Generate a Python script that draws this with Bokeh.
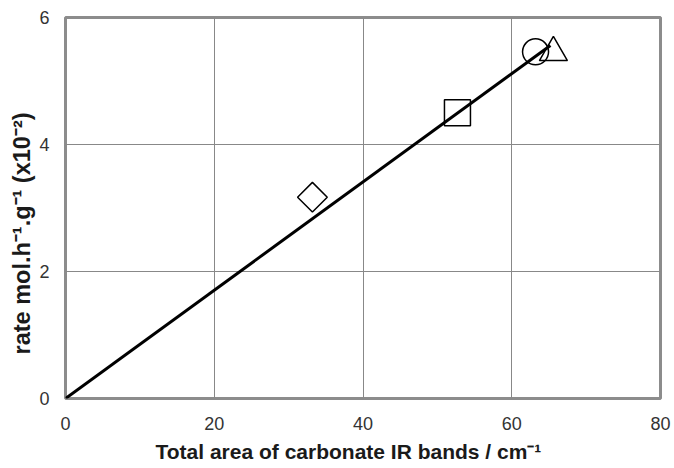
import math
from bokeh.plotting import figure
from bokeh.models import Range1d, FixedTicker, Title
from bokeh.embed import file_html
from bokeh.resources import INLINE

# data points
diamond_x = [33.2]; diamond_y = [3.17]
square_x = [52.7]; square_y = [4.50]
circle_x = [63.2]; circle_y = [5.46]
triangle_x = [65.6]; triangle_y = [5.45]
fit_x = [0, 65.2]; fit_y = [0, 5.56]
x_ticks = [0, 20, 40, 60, 80]
y_ticks = [0, 2, 4, 6]
x_title = "Total area of carbonate IR bands / cm\u207b\u00b9"
y_title = "rate mol.h\u207b\u00b9.g\u207b\u00b9 (x10\u207b\u00b2)"

p = figure(width=674, height=468, output_backend="svg", toolbar_location=None,
           x_range=Range1d(0, 80), y_range=Range1d(0, 6),
           min_border_left=65, min_border_right=14, min_border_top=17, min_border_bottom=69)
p.background_fill_color = "white"
p.border_fill_color = "white"
p.outline_line_color = "#8c8c8c"
p.outline_line_width = 3

for ax in (p.xaxis[0], p.yaxis[0]):
    ax.axis_line_color = None
    ax.major_tick_line_color = None
    ax.minor_tick_line_color = None
    ax.major_label_text_font = "Liberation Sans"
    ax.major_label_text_font_size = "18px"
    ax.major_label_text_color = "#333333"

p.xaxis.ticker = FixedTicker(ticks=x_ticks)
p.yaxis.ticker = FixedTicker(ticks=y_ticks)
p.xaxis.major_label_standoff = 12
p.yaxis.major_label_standoff = 10

p.xgrid.ticker = FixedTicker(ticks=x_ticks)
p.ygrid.ticker = FixedTicker(ticks=y_ticks)
p.grid.grid_line_color = "#888888"
p.grid.grid_line_width = 1

p.line(fit_x, fit_y, line_color="black", line_width=3)

p.scatter(diamond_x, diamond_y, marker="square", angle=math.pi / 4, size=21, fill_color=None, line_color="black", line_width=1.5)
p.scatter(square_x, square_y, marker="square", size=26, fill_color=None, line_color="black", line_width=1.5)
p.scatter(circle_x, circle_y, marker="circle", size=26, fill_color=None, line_color="black", line_width=1.5)
p.scatter(triangle_x, triangle_y, marker="triangle", size=28, fill_color=None, line_color="black", line_width=1.5)

xt = Title(text=x_title, align="left", offset=90, standoff=11,
           text_font="Liberation Sans", text_font_size="21px", text_font_style="bold",
           text_color="#1a1a1a")
yt = Title(text=y_title, align="left", offset=44, standoff=4,
           text_font="Liberation Sans", text_font_size="23.5px", text_font_style="bold",
           text_color="#1a1a1a")
p.add_layout(xt, "below")
p.add_layout(yt, "left")

open("out.html", "w").write(file_html(p, INLINE))
